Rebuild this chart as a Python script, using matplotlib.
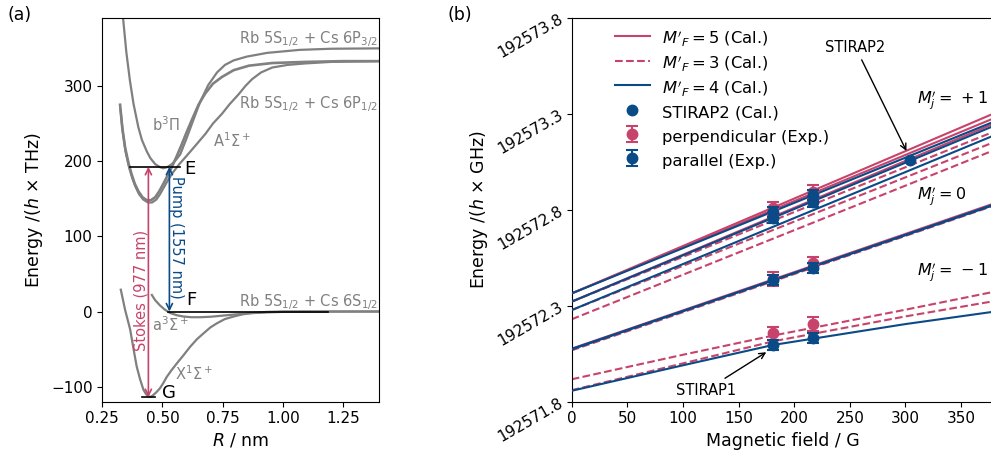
import numpy as np
import matplotlib
matplotlib.use("Agg")
from matplotlib import pyplot as plt

PINK = "#c8436b"
BLUE = "#0a4a86"
GREY = "#808080"

# ---- (a) potential energy curves, R in nm, energy in THz ----
x_state_r = [0.327, 0.345, 0.366, 0.380, 0.393, 0.407, 0.421, 0.432, 0.442, 0.452, 0.4625,
             0.476, 0.49, 0.504, 0.518, 0.538, 0.56, 0.588, 0.615, 0.643, 0.671, 0.70,
             0.727, 0.76, 0.796, 0.83, 0.865, 0.935, 1.0, 1.1, 1.4]
x_state_e = [29, 2, -24, -50, -73, -90, -104, -110, -113, -113.5, -111,
             -107, -102, -95, -87, -78, -69, -58, -47, -37, -29, -21,
             -15.6, -10, -6.7, -4, -2.2, -0.5, 0, 0, 0]

a_state_r = [0.456, 0.47, 0.49, 0.51, 0.532, 0.56, 0.588, 0.62, 0.657, 0.70, 0.75,
             0.80, 0.87, 0.935, 1.0, 1.1, 1.4]
a_state_e = [22, 15, 8, 2.5, -2, -5, -6.7, -7.6, -7.6, -7, -5.5,
             -4, -2.2, -1.2, -0.5, -0.2, 0]

b_state_r = [0.324, 0.333, 0.345, 0.36, 0.3725, 0.385, 0.40, 0.417, 0.435, 0.452, 0.47,
             0.487, 0.504, 0.52, 0.539, 0.56, 0.58, 0.60, 0.6225, 0.65, 0.678, 0.71,
             0.7475, 0.796, 0.86, 0.956, 1.095, 1.25, 1.4]
b_state_e = [275, 245, 218, 196, 182, 170, 160, 152, 148, 148, 152,
             160, 170, 180, 192, 207, 222, 238, 255, 275, 290, 303,
             312, 321, 327, 330.5, 332, 333, 333]

big_a_r = [0.326, 0.335, 0.347, 0.362, 0.375, 0.388, 0.403, 0.42, 0.44, 0.457, 0.475,
           0.49, 0.504, 0.52, 0.539, 0.57, 0.595, 0.63, 0.678, 0.71, 0.7475, 0.78,
           0.817, 0.845, 0.8725, 0.91, 0.956, 1.02, 1.095, 1.2, 1.4]
big_a_e = [268, 239, 212, 191, 177, 166, 156, 149, 145, 145, 149,
           156, 164, 173, 183, 196, 205, 218, 236, 250, 263, 276,
           289, 300, 309, 318, 324.5, 328, 330, 332, 333]

top_r = [0.335, 0.35, 0.365, 0.38, 0.40, 0.415, 0.435, 0.45, 0.47, 0.49, 0.504,
         0.52, 0.539, 0.557, 0.574, 0.60, 0.63, 0.657, 0.69, 0.727, 0.76, 0.796,
         0.85, 0.935, 1.07, 1.2, 1.4]
top_e = [395, 345, 307, 276, 245, 228, 213, 204, 196, 192, 190.5,
         192, 196, 202, 209, 230, 256, 279, 301, 318, 328, 334,
         339, 344, 348, 349.5, 350]

# vibrational levels
level_e = 192.5
level_e_r = [0.365, 0.574]
level_f_r = [0.525, 1.19]
level_g_r = [0.414, 0.47]
level_g = -114

stokes_r = 0.4417
pump_r = 0.529

# ---- (b) Zeeman shifts, field in G, energy in GHz ----
field_ends = [0, 380]
field_grid = [0, 100, 181, 300, 380]

mj_plus_f5 = [[192572.365, 192573.305], [192572.365, 192573.280], [192572.322, 192573.252]]
mj_plus_f4 = [[192572.365, 192573.262], [192572.322, 192573.240], [192572.278, 192573.190]]
mj_plus_f3 = [[192572.322, 192573.210], [192572.278, 192573.155], [192572.230, 192573.113]]

mj_zero_f5 = [[192572.077, 192572.835]]
mj_zero_f3 = [[192572.068, 192572.824]]
mj_zero_f4 = [[192572.073, 192572.830], [192572.075, 192572.827]]

mj_minus_f4 = [[192571.857, 192571.990, 192572.096, 192572.205, 192572.270]]
mj_minus_f3 = [[192571.917, 192572.045, 192572.145, 192572.280, 192572.374],
               [192571.860, 192572.000, 192572.115, 192572.245, 192572.325]]

perp_field = [181, 217, 181, 217, 181, 217]
perp_energy = [192572.809, 192572.895, 192572.440, 192572.522, 192572.157, 192572.205]
perp_err = [0.035, 0.035, 0.035, 0.035, 0.035, 0.035]

para_field = [181, 181, 217, 217, 181, 217, 181, 217]
para_energy = [192572.791, 192572.757, 192572.878, 192572.843, 192572.435, 192572.496,
               192572.096, 192572.131]
para_err = [0.025, 0.025, 0.025, 0.025, 0.025, 0.025, 0.025, 0.025]

stirap2_field = [304]
stirap2_energy = [192573.061]

y_ticks = [192571.8, 192572.3, 192572.8, 192573.3, 192573.8]
x_ticks_b = [0, 50, 100, 150, 200, 250, 300, 350]

plt.rcParams["font.size"] = 11

fig = plt.figure(figsize=(9.91, 4.61), dpi=100)
ax1 = fig.add_axes([0.1032, 0.1286, 0.2792, 0.8317])
ax2 = fig.add_axes([0.5769, 0.1286, 0.4266, 0.8317])

# panel (a)
for r, e, lw in [(x_state_r, x_state_e, 1.6), (a_state_r, a_state_e, 1.6),
                 (big_a_r, big_a_e, 1.6), (b_state_r, b_state_e, 1.9),
                 (top_r, top_e, 1.6)]:
    ax1.plot(r, e, color=GREY, lw=lw, zorder=2)

ax1.plot(level_e_r, [level_e, level_e], color="k", lw=1.2, zorder=3)
ax1.plot(level_f_r, [0, 0], color="k", lw=1.2, zorder=3)
ax1.plot(level_g_r, [level_g, level_g], color="k", lw=1.2, zorder=3)

ax1.annotate("", xy=(stokes_r, level_e), xytext=(stokes_r, level_g),
             arrowprops=dict(arrowstyle="<->", color=PINK, lw=1.2,
                             shrinkA=0, shrinkB=0), zorder=4)
ax1.annotate("", xy=(pump_r, level_e), xytext=(pump_r, 0),
             arrowprops=dict(arrowstyle="<->", color=BLUE, lw=1.2,
                             shrinkA=0, shrinkB=0), zorder=4)
ax1.text(0.411, 27.6, "Stokes (977 nm)", color=PINK, rotation=90,
         ha="center", va="center", fontsize=10.5)
ax1.text(0.56, 98, "Pump (1557 nm)", color=BLUE, rotation=-90,
         ha="center", va="center", fontsize=10.5)

ax1.text(0.59, level_e - 3, "E", fontsize=13, ha="left", va="center")
ax1.text(0.60, 15, "F", fontsize=13, ha="left", va="center")
ax1.text(0.50, -108, "G", fontsize=13, ha="left", va="center")

ax1.text(1.395, 362, r"Rb 5S$_{1/2}$ + Cs 6P$_{3/2}$", color=GREY, ha="right",
         va="center", fontsize=10.5)
ax1.text(1.395, 276, r"Rb 5S$_{1/2}$ + Cs 6P$_{1/2}$", color=GREY, ha="right",
         va="center", fontsize=10.5)
ax1.text(1.395, 12, r"Rb 5S$_{1/2}$ + Cs 6S$_{1/2}$", color=GREY, ha="right",
         va="center", fontsize=10.5)
ax1.text(0.515, 249, r"b$^3\Pi$", color=GREY, ha="center", va="center", fontsize=10.5)
ax1.text(0.79, 227, r"A$^1\Sigma^+$", color=GREY, ha="center", va="center", fontsize=10.5)
ax1.text(0.456, -18, r"a$^3\Sigma^+$", color=GREY, ha="left", va="center", fontsize=10.5)
ax1.text(0.553, -83, r"X$^1\Sigma^+$", color=GREY, ha="left", va="center", fontsize=10.5)

ax1.set_xlim(0.25, 1.4)
ax1.set_ylim(-120, 390)
ax1.set_xticks([0.25, 0.5, 0.75, 1.0, 1.25])
ax1.set_yticks([-100, 0, 100, 200, 300])
ax1.set_xlabel(r"$R$ / nm", fontsize=12.5)
ax1.set_ylabel(r"Energy /($h$ $\times$ THz)", fontsize=12.5)

# panel (b)
for vals in mj_plus_f5 + mj_zero_f5:
    ax2.plot(field_ends, vals, color=PINK, lw=1.5, zorder=2)
for vals in mj_plus_f3 + mj_zero_f3:
    ax2.plot(field_ends, vals, color=PINK, lw=1.5, ls="--", zorder=2)
for vals in mj_minus_f3:
    ax2.plot(field_grid, vals, color=PINK, lw=1.5, ls="--", zorder=2)
for vals in mj_plus_f4 + mj_zero_f4:
    ax2.plot(field_ends, vals, color=BLUE, lw=1.5, zorder=3)
for vals in mj_minus_f4:
    ax2.plot(field_grid, vals, color=BLUE, lw=1.5, zorder=3)

# legend proxies
ax2.plot([], [], color=PINK, lw=1.5, label=r"$M'_F = 5$ (Cal.)")
ax2.plot([], [], color=PINK, lw=1.5, ls="--", label=r"$M'_F = 3$ (Cal.)")
ax2.plot([], [], color=BLUE, lw=1.5, label=r"$M'_F = 4$ (Cal.)")

ax2.plot(stirap2_field, stirap2_energy, "o", color=BLUE, ms=7.5, zorder=5,
         label="STIRAP2 (Cal.)")
ax2.errorbar(perp_field, perp_energy, yerr=perp_err, fmt="o", color=PINK, ms=7.5,
             capsize=4, elinewidth=1.5, capthick=1.5, zorder=4,
             label="perpendicular (Exp.)")
ax2.errorbar(para_field, para_energy, yerr=para_err, fmt="o", color=BLUE, ms=7.5,
             capsize=4, elinewidth=1.5, capthick=1.5, zorder=5,
             label="parallel (Exp.)")

ax2.annotate("STIRAP2", xy=(302, 192573.095), xytext=(255, 192573.65),
             ha="center", va="center", fontsize=10.5,
             arrowprops=dict(arrowstyle="->", color="k", lw=1))
ax2.annotate("STIRAP1", xy=(177, 192572.066), xytext=(121, 192571.861),
             ha="center", va="center", fontsize=10.5,
             arrowprops=dict(arrowstyle="->", color="k", lw=1))

ax2.text(310, 192573.372, r"$M_j' =\,+1$", ha="left", va="center", fontsize=11.5)
ax2.text(310, 192572.870, r"$M_j' = 0$", ha="left", va="center", fontsize=11.5)
ax2.text(310, 192572.478, r"$M_j' =\,-1$", ha="left", va="center", fontsize=11.5)

ax2.set_xlim(0, 380)
ax2.set_ylim(y_ticks[0], y_ticks[-1])
ax2.set_xticks(x_ticks_b)
ax2.set_yticks(y_ticks)
ax2.set_yticklabels([f"{t:.1f}" for t in y_ticks], rotation=30, ha="right",
                    va="center", rotation_mode="anchor")
ax2.set_xlabel("Magnetic field / G", fontsize=12.5)
ax2.set_ylabel(r"Energy /($h$ $\times$ GHz)", fontsize=12.5)
ax2.legend(loc="upper left", bbox_to_anchor=(0.0866, 0.990), borderaxespad=0,
           frameon=False, fontsize=11.8, handlelength=2.14, handletextpad=0.75,
           handleheight=1.42, labelspacing=0.30)

fig.text(0.008, 0.967, "(a)", fontsize=12.5, ha="left", va="center")
fig.text(0.452, 0.967, "(b)", fontsize=12.5, ha="left", va="center")

fig.savefig("out.png", dpi=100)
